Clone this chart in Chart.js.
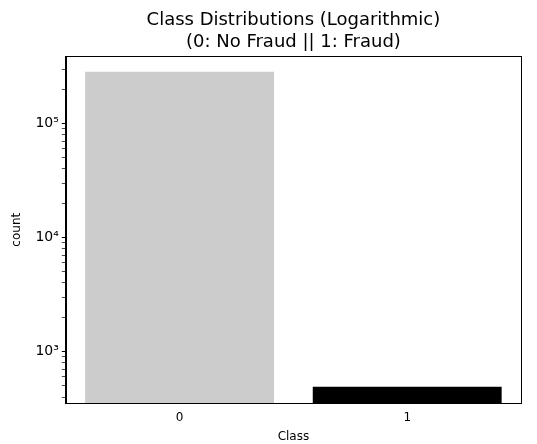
<!DOCTYPE html>
<html>
<head>
<meta charset="utf-8">
<script src="https://cdn.jsdelivr.net/npm/chart.js@4"></script>
<style>
  html, body { margin: 0; padding: 0; background: #fff; }
  #wrap { width: 537px; height: 444px; }
</style>
</head>
<body>
<div id="wrap"><canvas id="my_graph"></canvas></div>
<script>
const classes = ['0', '1'];
const counts = [284315, 492];
const barColors = ['#cccccc', '#000000'];
const yMin = 353;
const yMax = 390000;

const sup = { 2: '²', 3: '³', 4: '⁴', 5: '⁵' };

// box around the plot like matplotlib spines
const frame = {
  id: 'frame',
  afterDraw(chart) {
    const a = chart.chartArea;
    const c = chart.ctx;
    c.save();
    c.strokeStyle = '#000';
    c.lineWidth = 1;
    c.strokeRect(Math.round(a.left) + 0.5, Math.round(a.top) + 0.5,
      Math.round(a.right - a.left), Math.round(a.bottom - a.top));
    c.restore();
  }
};

const ctx = document.getElementById('my_graph');

new Chart(ctx, {
  type: 'bar',
  data: {
    labels: classes,
    datasets: [{
      data: counts,
      backgroundColor: barColors,
      borderWidth: 0,
      barPercentage: 0.83,
      categoryPercentage: 1
    }]
  },
  options: {
    responsive: true,
    maintainAspectRatio: false,
    animation: false,
    layout: { padding: { left: 10, right: 16, top: 2, bottom: 0 } },
    scales: {
      x: {
        grid: { display: false, drawOnChartArea: false, tickLength: 4, tickColor: '#000' },
        border: { display: true, color: '#000' },
        ticks: { color: '#000', font: { family: 'DejaVu Sans', size: 12 }, padding: 3 },
        title: { display: true, text: 'Class', color: '#000', font: { family: 'DejaVu Sans', size: 12 }, padding: { top: 2, bottom: 0 } }
      },
      y: {
        type: 'logarithmic',
        min: yMin,
        max: yMax,
        afterBuildTicks(scale) {
          const t = [];
          for (let e = 2; e <= 5; e++) {
            for (let m = 1; m <= 9; m++) {
              const v = m * Math.pow(10, e);
              if (v >= yMin && v <= yMax) t.push({ value: v, major: m === 1 });
            }
          }
          scale.ticks = t;
        },
        grid: {
          drawOnChartArea: false,
          tickLength: 4,
          tickColor: '#000',
          tickWidth: c => (c.tick && c.tick.major ? 1 : 0.7)
        },
        border: { display: true, color: '#000' },
        ticks: {
          color: '#000',
          autoSkip: false,
          font: { family: 'DejaVu Sans', size: 14 },
          padding: 3,
          callback: v => {
            const e = Math.log10(v);
            return Math.abs(e - Math.round(e)) < 1e-9 ? '10' + sup[Math.round(e)] : '';
          }
        },
        title: { display: true, text: 'count', color: '#000', font: { family: 'DejaVu Sans', size: 12 }, padding: { top: 0, bottom: 8 } }
      }
    },
    plugins: {
      legend: { display: false },
      tooltip: { enabled: false },
      title: {
        display: true,
        fullSize: false,
        text: ['Class Distributions (Logarithmic)', '(0: No Fraud || 1: Fraud)'],
        color: '#000',
        font: { family: 'DejaVu Sans', size: 18, weight: 'normal' },
        lineHeight: 1.15,
        padding: { top: 8, bottom: 3 }
      }
    }
  },
  plugins: [frame]
});
</script>
</body>
</html>
